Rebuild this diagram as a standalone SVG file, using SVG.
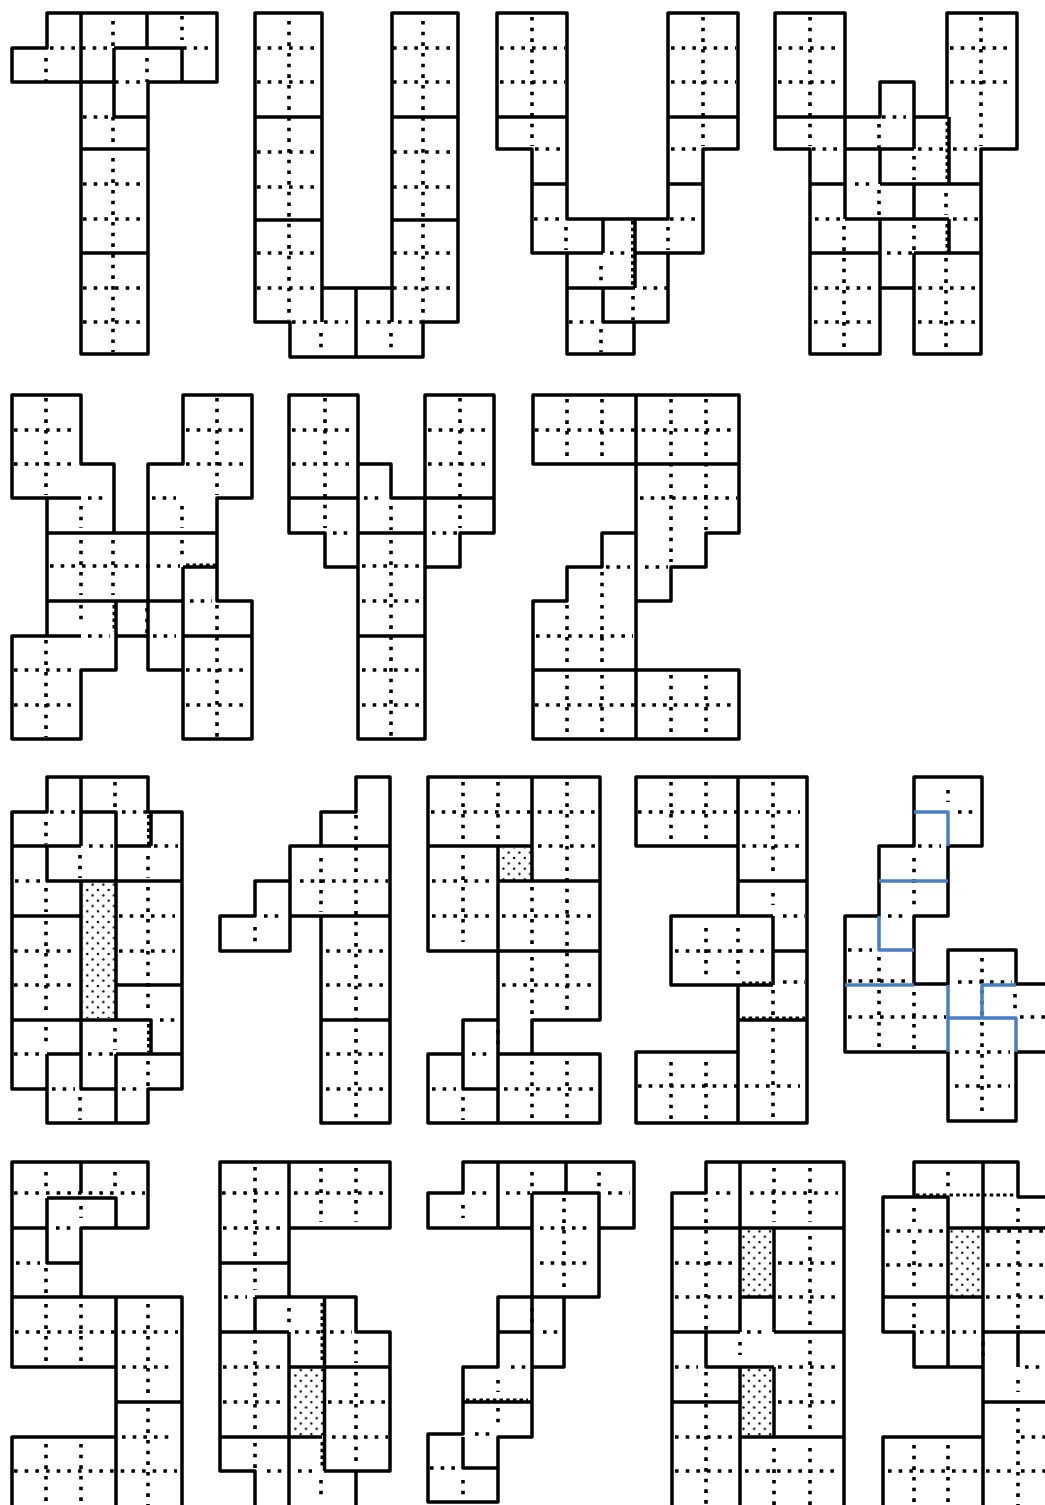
<svg xmlns="http://www.w3.org/2000/svg" width="1045" height="1505" viewBox="0 0 1045 1505">
<style>
path{fill:none;stroke:#000;stroke-width:3.5;stroke-linejoin:round}
.d{stroke-width:3.6;stroke-dasharray:3.6 7.07}
.w{stroke-width:3;stroke-dasharray:3.5 3.2}
.b{stroke:#4a7ec2}
.h{fill:url(#dots);stroke:none}
</style>
<defs>
<pattern id="dots" patternUnits="userSpaceOnUse" x="87.3" y="890" width="10.67" height="10.67">
<circle cx="0" cy="0" r="1.2"/><circle cx="10.67" cy="0" r="1.2"/><circle cx="0" cy="10.67" r="1.2"/><circle cx="10.67" cy="10.67" r="1.2"/><circle cx="5.33" cy="5.33" r="1.2"/>
</pattern>
</defs>
<rect width="1045" height="1505" fill="#fff"/>

<g id="glyph-T">
<path class="d" d="M50 48H113M183 48H213M46 58V82M113 21V48M113 117V150M113 158V352M182 16V40M147 58V82M115 82H140M83 117H108M83 184H140M83 219H140M83 288H140M83 322H140"/>
<path d="M47 13H217V82H148V354H81V82H12V48H47ZM81 13V82M147 13V48M114 48H182V82M114 48V117H148M81 82H114M81 149H147M81 253H147"/>
</g>

<g id="glyph-U">
<path class="d" d="M289 21V320M423 21V320M257 48H314M257 82H314M257 152H314M257 187H314M257 253H314M257 288H314M393 48H450M393 82H450M393 152H450M393 187H450M393 253H450M393 288H450M292 322H348M366 322H423M321 333V352M391 333V352"/>
<path d="M255 13H322V288H392V13H458V322H423V357H290V322H255ZM255 117H322M255 220H322M392 117H458M392 220H458M356 288V357M322 288V322M392 288V322"/>
</g>

<g id="glyph-V">
<path class="d" d="M532 17V146M703 17V146M500 48H565M500 82H565M671 48H736M671 82H736M535 149H560M671 149H696M534 219H560M670 219H697M566 227V250M668 227V250M610 253H628M601 266V285M643 288H668M633 296V320M569 322H596M601 329V352"/>
<path class="w" d="M632.5 221V287"/>
<path d="M497 13H567V219H668V13H738V149H703V253H668V322H634V354H567V253H532V149H497ZM497 117H567M668 117H738M532 184H567M668 184H703M603 219V253M635 219V288M532 253H603M635 253H703M567 288H635M603 288V322H668"/>
</g>

<g id="glyph-W">
<path class="d" d="M810 17V146M981 17V146M778 48H842M778 82H842M950 48H1014M950 82H1014M882 117H906M879 124V148M812 149H838M918 149H945M953 149H977M914 156V180M855 184H874M879 190V215M946 193V215M815 219H840M953 219H978M844 226V352M914 225V250M946 258V352M887 253H912M814 288H876M918 288H975M814 322H876M918 322H975"/>
<path class="w" d="M947 122V182M947 224V252"/>
<path d="M775 13H845V117H880V82H914V117H947V13H1017V149H981V354H914V288H880V354H810V149H775ZM775 117H845M845 117V219M845 149H914M914 117V149M880 149V184M880 184H981M914 184V219M845 219H949M949 117V184M949 219V253M810 184H845M810 253H880M880 219V354M914 253H981M914 253V288M880 288H914"/>
</g>

<g id="glyph-X">
<path class="d" d="M46 398V495M46 640V737M217 398V495M217 605V737M14 430H78M14 464H78M186 430H250M186 464H250M14 670H78M14 705H78M186 670H250M186 705H250M88 498H106M152 498H176M81 506V528M81 540V595M81 605V625M182 506V528M182 540V560M113 540V595M50 566H180M147 608V633M190 601H212M88 636H110M153 636H176"/>
<path class="w" d="M186 565H216M114 605V632"/>
<path d="M12 395H81V464H114V533H148V464H183V395H252V498H217V601H252V739H183V670H148V636H116V670H81V739H12V636H47V498H12ZM47 498H81M47 533H217M148 533V636M47 601H183M183 567V670M183 567H217M183 636H252M12 636H81M116 601V636"/>
</g>

<g id="glyph-Y">
<path class="d" d="M325 398V528M460 398V528M292 430H355M292 464H355M428 430H491M428 464H491M364 498H384M391 506V530M391 540V737M333 533H354M432 533H457M362 566H420M362 601H420M362 670H420M362 705H420"/>
<path d="M289 395H358V464H391V498H425V395H494V533H460V567H425V739H358V567H325V533H289ZM289 498H358M391 498H494M358 464V567M425 498V567M358 533H425M358 636H425"/>
</g>

<g id="glyph-Z">
<path class="d" d="M567 399V460M602 399V460M535 430H735M671 399V562M706 399V530M640 498H737M606 567H630M645 567H668M602 572V600M567 605V668M602 605V668M567 675V737M602 675V737M671 675V737M706 675V737M536 636H633M535 705H735"/>
<path d="M533 395H739V533H706V567H671V601H636V670H739V739H533V601H567V567H602V533H636V464H533ZM636 395V739M636 464H739M533 670H636"/>
</g>

<g id="glyph-0">
<rect class="h" x="83" y="883" width="32" height="135"/>
<path class="d" d="M50 812H75M122 812H148M46 822V844M115 782V808M89 846H113M154 846H178M80 855V878M148 856V878M148 887V1014M15 881H40M46 888V912M46 921V1017M46 1027V1042M119 916H175M119 951H175M14 951H78M14 985H78M160 1020H178M115 1028V1050M14 1054H40M88 1054H113M148 1061V1086M52 1089H75M122 1089H142M80 1097V1120"/>
<path class="w" d="M148.5 815V846M148.5 1024V1052"/>
<path d="M47 777H148V812H182V1089H148V1123H47V1089H12V812H47ZM81 777V846M81 812H116V881M12 846H81M116 846H151M151 812V846M47 846V881H182M81 881V1089H116M116 881V1020M12 916H81M116 985H182M12 1020H151V1054M47 1054H81M47 1054V1123M116 1054H182M116 1054V1123"/>
</g>

<g id="glyph-1">
<path class="d" d="M356 815V1120M321 858V912M300 881H388M264 916H285M255 927V948M326 951H388M326 985H388M326 1054H388M326 1089H388"/>
<path d="M356 777H390V1123H321V916H290V951H220V916H255V881H290V846H321V812H356ZM290 846H390M290 916H390M321 1020H390M290 881V916"/>
</g>

<g id="glyph-2">
<rect class="h" x="500" y="848" width="31" height="32"/>
<path class="d" d="M463 782V842M463 855V942M498 782V842M431 812H595M567 782V1016M567 1061V1120M538 846H595M432 881H495M432 916H495M502 916H595M502 985H597M532 887V948M532 957V1017M498 1030V1050M472 1054H492M432 1089H456M504 1089H595M463 1097V1120M532 1061V1120"/>
<path d="M428 777H600V1020H532V1054H600V1123H428V1054H463V1020H498V951H428ZM532 777V881M428 846H532M498 846V1123M498 881H600M498 951H600M463 1020V1089H498M428 1054H463M498 1054H532"/>
</g>

<g id="glyph-3">
<path class="d" d="M671 782V842M706 782V842M638 812H800M773 782V875M773 893V905M742 846H803M783 916H805M706 928V975M738 928V975M675 951H770M783 982H805M773 990V1016M773 1028V1120M671 1062V1120M706 1062V1120M638 1086H800"/>
<path class="w" d="M742 983H771M742 1018H805"/>
<path d="M636 777H807V1123H636V1052H738V985H671V916H738V846H636ZM738 777V846M738 881H807M773 916V985M773 951H807M671 916H773M738 1020H807M738 1123V1052M738 985H773"/>
</g>

<g id="glyph-4">
<path class="d" d="M948 790V802M958 812H975M918 846H941M914 858V908M888 916H905M848 950H872M879 957V982M879 990V1050M848 981H912M848 1017H946M1020 1017H1045M914 992V1050M958 982H1012M982 958V1118M1015 994V1010M955 1052H1010M955 1086H1010"/>
<path d="M1045 1052H1016V1121H948V1052H845V916H879V846H914V777H982V846H948V916H914V984H948V950H1016V984H1045"/>
<path class="b" d="M914 812H948V846M879 881H948M879 916V950H914M845 985H914M948 985V1052M948 1018H1016V1052M982 1018V985H1016"/>
</g>

<g id="glyph-5">
<path class="d" d="M46 1172V1190M115 1172V1190M14 1193H145M81 1206V1218M56 1228H72M16 1263H40M46 1268V1293M46 1304V1365M81 1304V1365M15 1332H178M148 1304V1400M148 1408V1505M122 1367H175M122 1437H175M46 1444V1505M81 1444V1505M14 1471H177"/>
<path d="M12 1162H148V1228H81V1297H182V1510H12V1437H116V1367H12ZM81 1162V1193M47 1198H116V1228M47 1198V1263H81M12 1228H47M116 1297V1510M116 1402H182M12 1297H81"/>
</g>

<g id="glyph-6">
<rect class="h" x="292" y="1369" width="31" height="67"/>
<path class="d" d="M255 1167V1260M255 1268V1290M222 1193H286M294 1193H386M223 1228H285M321 1168V1222M356 1168V1222M224 1297H247M289 1308V1325M295 1332H320M330 1332H352M356 1340V1363M356 1372V1465M255 1340V1432M223 1367H286M223 1402H286M328 1402H387M332 1437H388M255 1443V1468M267 1471H282M298 1471H312M321 1480V1500"/>
<path class="w" d="M322 1303V1363M322 1442V1467"/>
<path d="M220 1162H390V1228H289V1297H356V1332H390V1471H356V1510H255V1471H220ZM289 1162V1228M220 1263H289M255 1297V1332M255 1297H289M220 1332H289M289 1332V1510M324.500 1297V1471M289 1367H390M220 1437H322M324 1471H356"/>
</g>

<g id="glyph-7">
<path class="d" d="M472 1193H492M506 1193H530M608 1193H630M463 1205V1218M532 1172V1188M599 1172V1188M564 1198V1290M540 1228H592M540 1263H592M532 1308V1325M543 1332H558M511 1367H526M498 1380V1392M498 1408V1425M475 1434H490M430 1468H455M463 1480V1498"/>
<path class="w" d="M466 1400H528"/>
<path d="M463 1162H634V1228H599V1297H564V1367H532V1437H498V1502H428V1434H463V1367H498V1297H532V1228H428V1193H463ZM498 1162V1228M566 1162V1193M532 1193H599V1228M532 1193V1228M498 1297H599M498 1332H532M532 1297V1367M463 1402H532M463 1437V1468H498"/>
</g>

<g id="glyph-8">
<rect class="h" x="742" y="1230" width="31" height="66"/>
<rect class="h" x="742" y="1369" width="31" height="67"/>
<path class="d" d="M716 1193H732M750 1193H838M706 1198V1330M774 1168V1222M810 1168V1222M810 1236V1328M810 1340V1432M810 1448V1505M774 1448V1505M675 1263H738M778 1263H842M675 1297H738M778 1297H842M747 1332H762M740 1342V1355M675 1367H698M778 1367H842M778 1402H842M706 1372V1505M675 1437H738M675 1471H738M745 1471H840"/>
<path d="M706 1162H844V1510H672V1193H706ZM740 1162V1228M672 1228H844M740 1228V1332M774 1228V1332M740 1297H774M672 1332H740M774 1332H844M706 1332V1367H774M774 1367V1437M740 1367V1510M672 1402H740M740 1437H844"/>
</g>

<g id="glyph-9">
<rect class="h" x="950" y="1230" width="32" height="66"/>
<path class="d" d="M948 1172V1188M914 1208V1222M914 1240V1293M914 1303V1328M1018 1208V1222M1018 1240V1330M886 1231H944M986 1231H1045M886 1265H945M986 1265H1045M986 1297H1045M920 1332H976M983 1342V1355M1025 1367H1045M1018 1380V1392M1018 1408V1505M1021 1437H1045M1021 1471H1045M986 1471H1016M914 1445V1505M948 1445V1505M888 1471H980"/>
<path class="w" d="M916 1195H1016"/>
<path d="M1045 1197H1018V1162H914V1197H883V1332H914V1367H983V1437H883V1510M1045 1332H1018V1367M983 1162V1510M914 1197H948V1367M948 1228H983M983 1228H1045M883 1297H983M983 1332H1018M983 1402H1045"/>
</g>
</svg>
